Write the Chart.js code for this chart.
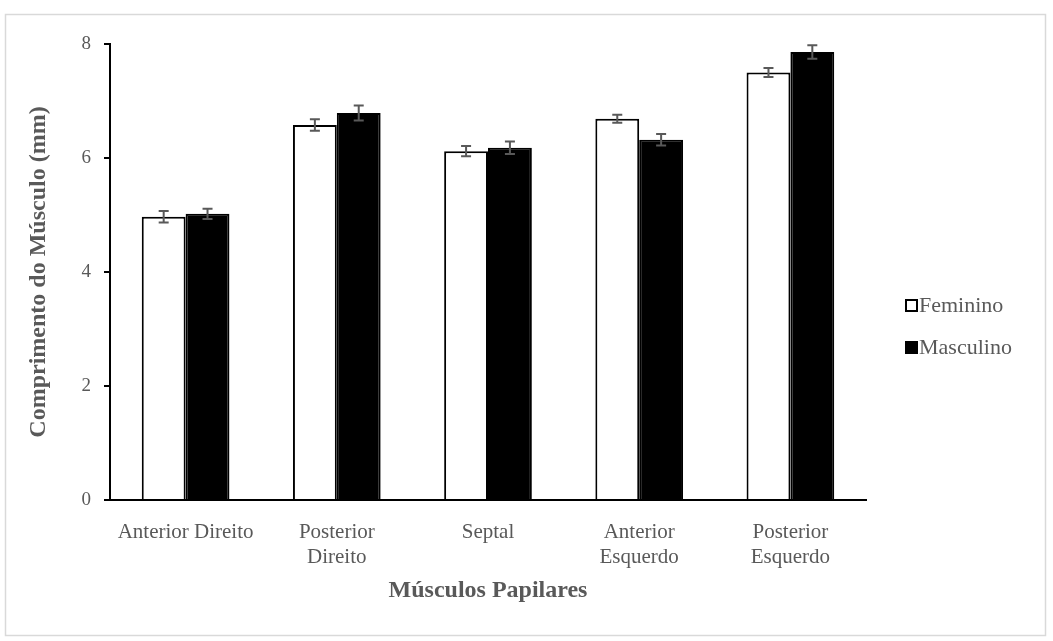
<!DOCTYPE html>
<html>
<head>
<meta charset="utf-8">
<script src="https://cdn.jsdelivr.net/npm/chart.js@4.4.1/dist/chart.umd.min.js"></script>
<style>
html,body{margin:0;padding:0;background:#fff;}
#wrap{width:1053px;height:641px;position:relative;}
</style>
</head>
<body>
<div id="wrap"><canvas id="c" width="1053" height="641"></canvas></div>
<script>
const categories = [['Anterior Direito'], ['Posterior', 'Direito'], ['Septal'], ['Anterior', 'Esquerdo'], ['Posterior', 'Esquerdo']];
const seriesNames = ['Feminino', 'Masculino'];
const feminino = [4.97, 6.58, 6.12, 6.69, 7.50];
const masculino = [5.02, 6.79, 6.18, 6.32, 7.86];
const errFeminino = [0.10, 0.10, 0.09, 0.07, 0.08];
const errMasculino = [0.09, 0.13, 0.11, 0.10, 0.12];
const yTicks = [0, 2, 4, 6, 8];

const FONT = '"Liberation Serif", "Times New Roman", serif';
const GREY = '#595959';

const framePlugin = {
  id: 'frame',
  beforeDraw(chart) {
    const ctx = chart.ctx;
    ctx.save();
    ctx.fillStyle = '#fff';
    ctx.fillRect(0, 0, chart.width, chart.height);
    ctx.strokeStyle = '#d9d9d9';
    ctx.lineWidth = 1.5;
    ctx.strokeRect(5.5, 14.5, 1040, 621);
    ctx.restore();
  }
};

const errorBarPlugin = {
  id: 'errorBars',
  afterDatasetsDraw(chart) {
    const ctx = chart.ctx;
    const y = chart.scales.y;
    const errs = [errFeminino, errMasculino];
    ctx.save();
    ctx.strokeStyle = GREY;
    ctx.lineWidth = 2;
    chart.data.datasets.forEach((ds, di) => {
      const meta = chart.getDatasetMeta(di);
      meta.data.forEach((bar, i) => {
        const v = ds.data[i], e = errs[di][i];
        const yt = y.getPixelForValue(v + e), yb = y.getPixelForValue(v - e);
        const x = bar.x, w = 5;
        ctx.beginPath();
        ctx.moveTo(x, yt); ctx.lineTo(x, yb);
        ctx.moveTo(x - w, yt); ctx.lineTo(x + w, yt);
        ctx.moveTo(x - w, yb); ctx.lineTo(x + w, yb);
        ctx.stroke();
      });
    });
    ctx.restore();
  }
};

const legendPlugin = {
  id: 'customLegend',
  afterDraw(chart) {
    const ctx = chart.ctx;
    const items = [
      {label: seriesNames[0], fill: '#fff', y: 305},
      {label: seriesNames[1], fill: '#000', y: 347}
    ];
    ctx.save();
    ctx.font = '22px ' + FONT;
    ctx.textBaseline = 'middle';
    ctx.textAlign = 'left';
    items.forEach(it => {
      ctx.fillStyle = it.fill;
      ctx.fillRect(906, it.y - 5, 11, 11);
      ctx.strokeStyle = '#000';
      ctx.lineWidth = 2;
      ctx.strokeRect(906, it.y - 5, 11, 11);
      ctx.fillStyle = GREY;
      ctx.fillText(it.label, 919, it.y + 1);
    });
    ctx.restore();
  }
};

new Chart(document.getElementById('c'), {
  type: 'bar',
  data: {
    labels: categories,
    datasets: [
      {label: seriesNames[0], data: feminino, backgroundColor: '#ffffff', borderColor: '#000', borderWidth: 2},
      {label: seriesNames[1], data: masculino, backgroundColor: '#000000', borderColor: '#000', borderWidth: 2}
    ]
  },
  options: {
    responsive: false,
    animation: false,
    devicePixelRatio: 1,
    layout: {padding: {left: 0, top: 44, right: 187, bottom: 0}},
    plugins: {legend: {display: false}, tooltip: {enabled: false}},
    datasets: {bar: {categoryPercentage: 0.58, barPercentage: 1.0}},
    scales: {
      x: {
        grid: {display: false},
        border: {display: true, color: '#000', width: 2},
        ticks: {color: GREY, font: {family: FONT, size: 21, lineHeight: 1.2}, padding: 12, maxRotation: 0, autoSkip: false},
        title: {display: true, text: 'Músculos Papilares', color: GREY, font: {family: FONT, size: 24, weight: 'bold'}, padding: {top: 0, bottom: 36}},
        afterFit(scale) { scale.height = 141; }
      },
      y: {
        min: 0, max: 8,
        afterBuildTicks(scale) { scale.ticks = yTicks.map(v => ({value: v})); },
        grid: {display: true, drawOnChartArea: false, drawTicks: true, tickLength: 6, color: '#000', lineWidth: 2},
        border: {display: true, color: '#000', width: 2},
        ticks: {color: GREY, font: {family: FONT, size: 19}, padding: 13},
        title: {display: true, text: 'Comprimento do Músculo (mm)', color: GREY, font: {family: FONT, size: 24, weight: 'bold'}, padding: {top: 24, bottom: 0}},
        afterFit(scale) { scale.width = 110; }
      }
    }
  },
  plugins: [framePlugin, errorBarPlugin, legendPlugin]
});
</script>
</body>
</html>
